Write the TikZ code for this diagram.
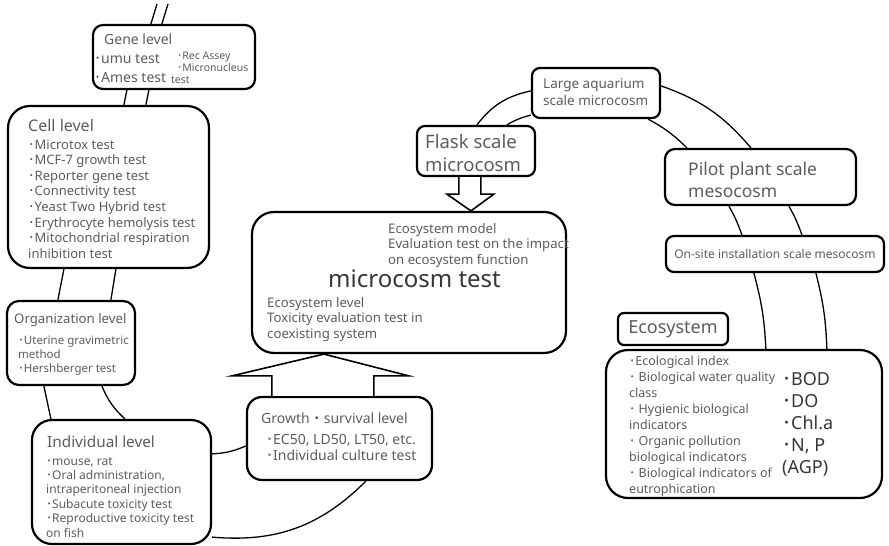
\documentclass[tikz,border=0pt]{standalone}
\usepackage{fontspec}
\setmainfont{Noto Sans}
\newfontfamily\jpfont{Noto Sans CJK JP}
\usetikzlibrary{calc}
\definecolor{txtgray}{RGB}{92,92,92}
\definecolor{dkgray}{RGB}{55,55,55}
\newcommand{\fsz}[1]{\fontsize{#1}{#1}\selectfont}
\newcommand{\dt}{{\jpfont ･}}

\begin{document}
\begin{tikzpicture}[x=1pt,y=-1pt,
  box/.style={draw,line width=2.2pt,rounded corners=#1,inner sep=0pt},
  box/.default=10pt,
  lbl/.style={anchor=base west,inner sep=0pt,text=txtgray},
  link/.style={draw,line width=1.3pt},
  hollow/.style={draw,line width=1.6pt,fill=white}]
\useasboundingbox (0,0) rectangle (889,546);

% boxes
\node[box, minimum width=162pt, minimum height=64pt] (gene) at (174,57) {};
\node[box=22pt, minimum width=201pt, minimum height=162pt] (cell) at (108.5,187) {};
\node[box=12pt, minimum width=128pt, minimum height=84pt] (org) at (71,343) {};
\node[box=20pt, minimum width=179pt, minimum height=124pt] (indiv) at (121.5,482) {};
\node[box=15pt, minimum width=185pt, minimum height=83pt] (growth) at (339.5,438.5) {};
\node[box=22pt, minimum width=314pt, minimum height=141pt] (micro) at (409,282.5) {};
\node[box=8pt, minimum width=118pt, minimum height=50pt] (flask) at (476,151) {};
\node[box=8pt, minimum width=128pt, minimum height=50pt] (large) at (596,93) {};
\node[box, minimum width=191pt, minimum height=56pt] (pilot) at (760.5,177) {};
\node[box=8pt, minimum width=218pt, minimum height=36pt, font=\fsz{12}, text=txtgray] (onsite) at (775,254) {On-site installation scale mesocosm};
\node[box=6pt, minimum width=110pt, minimum height=32pt, font=\fsz{18}, text=txtgray] (ecolbl) at (673,329) {Ecosystem};
\node[box=22pt, minimum width=276pt, minimum height=148pt] (ecobox) at (744,424) {};

% gene level
\node[lbl, font=\fsz{14}] (genet) at (104,44) {Gene level};
\foreach \s [count=\i from 0] in {\dt umu test, \dt Ames test}
  \node[lbl, font=\fsz{14}] (gene-\i) at (94,63+19*\i) {\s};
\foreach \s [count=\i from 0] in {\dt Rec Assey, \dt Micronucleus}
  \node[lbl, font=\fsz{10.5}] (genes-\i) at (177,59+12*\i) {\s};
\node[lbl, font=\fsz{10.5}] (genes-2) at (171,83) {test};

% cell level
\node[lbl, font=\fsz{16}] (cellt) at (28,131) {Cell level};
\foreach \s [count=\i from 0] in {\dt Microtox test, \dt MCF-7 growth test, \dt Reporter gene test,
    \dt Connectivity test, \dt Yeast Two Hybrid test, \dt Erythrocyte hemolysis test,
    \dt Mitochondrial respiration, inhibition test}
  \node[lbl, font=\fsz{13}] (cell-\i) at (28,149+15.6*\i) {\s};

% organization level
\node[lbl, font=\fsz{13.2}] (orgt) at (14,323) {Organization level};
\foreach \s [count=\i from 0] in {\dt Uterine gravimetric, method, \dt Hershberger test}
  \node[lbl, font=\fsz{11.5}] (org-\i) at (18,344+14*\i) {\s};

% individual level
\node[lbl, font=\fsz{15.3}] (indivt) at (47,447) {Individual level};
\foreach \s [count=\i from 0] in {{\dt mouse, rat}, {\dt Oral administration,}, intraperitoneal injection,
    \dt Subacute toxicity test, \dt Reproductive toxicity test, on fish}
  \node[lbl, font=\fsz{12}] (indiv-\i) at (46,465+14.4*\i) {\s};

% growth level
\node[lbl, font=\fsz{14}] (growtht) at (261,423) {Growth{\jpfont ・}survival level};
\foreach \s [count=\i from 0] in {{\dt EC50, LD50, LT50, etc.}, \dt Individual culture test}
  \node[lbl, font=\fsz{14}] (growth-\i) at (266,444+16*\i) {\s};

% microcosm test
\foreach \s [count=\i from 0] in {Ecosystem model, Evaluation test on the impact, on ecosystem function}
  \node[lbl, font=\fsz{13.2}] (microa-\i) at (388,233+15.5*\i) {\s};
\node[lbl, font=\fsz{24}, text=dkgray] (microt) at (328,287) {microcosm test};
\foreach \s [count=\i from 0] in {Ecosystem level, Toxicity evaluation test in, coexisting system}
  \node[lbl, font=\fsz{13.2}] (microb-\i) at (267,307+15.5*\i) {\s};

% flask, aquarium, pilot plant
\foreach \s [count=\i from 0] in {Flask scale, microcosm}
  \node[lbl, font=\fsz{18.5}] (flask-\i) at (425,148+23*\i) {\s};
\foreach \s [count=\i from 0] in {Large aquarium, scale microcosm}
  \node[lbl, font=\fsz{13.5}] (large-\i) at (543,88+17*\i) {\s};
\foreach \s [count=\i from 0] in {Pilot plant scale, mesocosm}
  \node[lbl, font=\fsz{17.5}] (pilot-\i) at (688,175+22*\i) {\s};

% ecosystem
\foreach \s [count=\i from 0] in {\dt Ecological index, \dt\ Biological water quality, class,
    \dt\ Hygienic biological, indicators, \dt\ Organic pollution, biological indicators,
    \dt\ Biological indicators of, eutrophication}
  \node[lbl, font=\fsz{12.5}] (eco-\i) at (629,365+16*\i) {\s};
\foreach \s [count=\i from 0] in {\dt BOD, \dt DO, \dt Chl.a, {\dt N, P}, (AGP)}
  \node[lbl, font=\fsz{18}, text=dkgray] (ecor-\i) at (782,385+22*\i) {\s};

% connectors
\coordinate (top1) at (157,4);
\coordinate (top2) at (168,4);
\draw[link] ($(gene.north west)+(59,0)$) -- (top1);
\draw[link] ($(gene.north west)+(70,0)$) -- (top2);
\draw[link] ($(gene.south west)+(35,0)$) -- ($(cell.north west)+(117,0)$);
\draw[link] ($(gene.south west)+(57,0)$) -- ($(cell.north west)+(139,0)$);
\draw[link] ($(cell.south west)+(57,0)$) -- ($(org.north west)+(52,0)$);
\draw[link] ($(cell.south west)+(109,0)$) -- ($(org.north west)+(105,0)$);
\draw[link] ($(org.south west)+(38,0)$) -- ($(indiv.north west)+(20,0)$);
\draw[link] ($(org.south west)+(96,0)$) to[bend right=12] ($(indiv.north west)+(94,0)$);
\draw[link] ($(indiv.north east)+(0,35)$) to[bend right=10] ($(growth.north west)+(0,50)$);
\draw[link] ($(indiv.south east)+(0,-8)$) to[bend right=25] ($(growth.south west)+(120,0)$);
\draw[link] ($(flask.north west)+(61,0)$) to[bend left=20] ($(large.north west)+(0,24)$);
\draw[link] ($(flask.north west)+(91,0)$) to[bend left=8] ($(large.south west)+(0,-4)$);
\draw[link] ($(large.north east)+(0,19)$) to[bend left=15] ($(pilot.north west)+(87,0)$);
\draw[link] ($(large.south east)+(-13,0)$) to[bend left=8] ($(pilot.north west)+(23,0)$);
\draw[link] ($(pilot.south west)+(65,0)$) to[bend left=5] ($(onsite.north west)+(77,0)$);
\draw[link] ($(pilot.south west)+(125,0)$) to[bend left=5] ($(onsite.north west)+(137,0)$);
\draw[link] ($(onsite.south west)+(89,0)$) to[bend left=6] ($(ecobox.north west)+(161,0)$);
\draw[link] ($(onsite.south west)+(151,0)$) to[bend left=6] ($(ecobox.north west)+(222,0)$);

% hollow arrows
\draw[hollow] ($(growth.north west)+(26,0)$) |- ($(growth.north west)+(-14,-20)$)
  -- ($(micro.south west)+(73,0)$) -- ($(growth.north west)+(163,-20)$) -| ($(growth.north west)+(128,0)$);
\draw[hollow] ($(flask.south west)+(43,0)$) |- ($(flask.south west)+(31,17)$)
  -- ($(micro.north west)+(220,0)$) -- ($(flask.south west)+(78,17)$) -| ($(flask.south west)+(65,0)$);
\end{tikzpicture}
\end{document}
